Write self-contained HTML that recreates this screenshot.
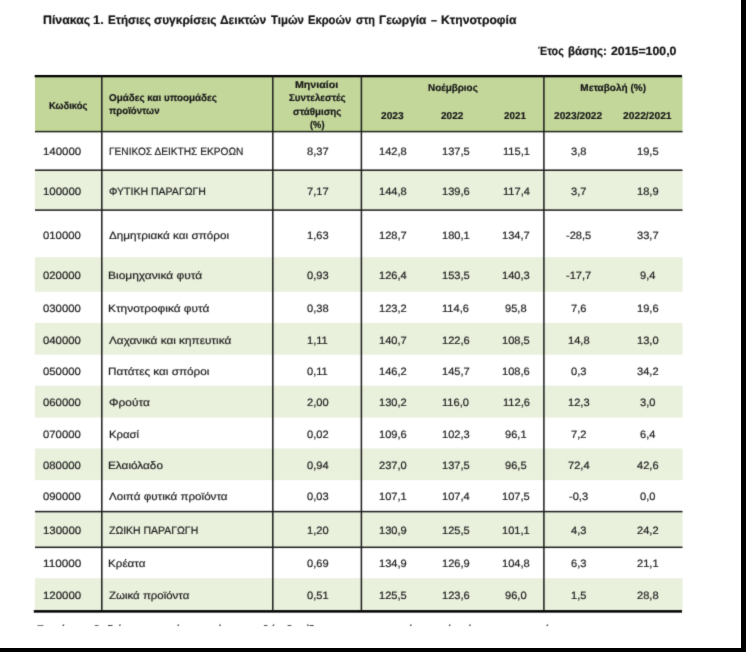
<!DOCTYPE html>
<html><head><meta charset="utf-8"><title>Table</title>
<style>
html,body{margin:0;padding:0;}
body{width:746px;height:652px;overflow:hidden;background:#000;position:relative;font-family:"Liberation Sans",sans-serif;}
#pg{position:absolute;left:0;top:0;width:741px;height:648px;background:#fff;overflow:hidden;}
#in{position:absolute;left:0;top:0;width:741px;height:648px;background:#fff;filter:url(#soft);}
.r{position:absolute;}
.t{text-rendering:geometricPrecision;-webkit-text-stroke:0.2px currentColor;position:absolute;white-space:nowrap;line-height:14px;height:14px;transform-origin:0 50%;}
</style></head><body>
<svg width="0" height="0" style="position:absolute"><defs><filter id="soft" x="0" y="0" width="100%" height="100%" color-interpolation-filters="sRGB"><feConvolveMatrix order="5" kernelMatrix="0.00000 0.00006 0.00035 0.00006 0.00000 0.00006 0.01430 0.09087 0.01430 0.00006 0.00035 0.09087 0.57743 0.09087 0.00035 0.00006 0.01430 0.09087 0.01430 0.00006 0.00000 0.00006 0.00035 0.00006 0.00000" edgeMode="duplicate" preserveAlpha="true"/></filter></defs></svg>
<div id="pg"><div id="in">

<svg class="r" style="left:0;top:0" width="741" height="648" viewBox="0 0 741 648"><rect x="35.00" y="76.00" width="647.50" height="55.60" fill="#c4d79b"/><rect x="35.00" y="170.20" width="647.50" height="39.90" fill="#e9f0dc"/><rect x="35.00" y="257.20" width="647.50" height="34.60" fill="#e9f0dc"/><rect x="35.00" y="322.90" width="647.50" height="31.80" fill="#e9f0dc"/><rect x="35.00" y="385.70" width="647.50" height="31.90" fill="#e9f0dc"/><rect x="35.00" y="448.40" width="647.50" height="31.70" fill="#e9f0dc"/><rect x="35.00" y="511.60" width="647.50" height="35.80" fill="#e9f0dc"/><rect x="35.00" y="578.30" width="647.50" height="32.20" fill="#e9f0dc"/><rect x="34.70" y="75.00" width="647.30" height="2.30" fill="#000"/><rect x="33.80" y="610.10" width="648.20" height="2.55" fill="#000"/><rect x="35.00" y="130.85" width="647.50" height="1.50" fill="#20241a"/><rect x="35.00" y="169.45" width="647.50" height="1.50" fill="#1c1c1c"/><rect x="35.00" y="209.35" width="647.50" height="1.50" fill="#1c1c1c"/><rect x="35.00" y="510.85" width="647.50" height="1.50" fill="#1c1c1c"/><rect x="35.00" y="546.55" width="647.50" height="1.50" fill="#1c1c1c"/><rect x="101.05" y="76.00" width="1.50" height="535.00" fill="#1c1c1c"/><rect x="272.05" y="76.00" width="1.50" height="535.00" fill="#1c1c1c"/><rect x="360.65" y="76.00" width="1.50" height="535.00" fill="#1c1c1c"/><rect x="543.15" y="76.00" width="1.50" height="535.00" fill="#1c1c1c"/></svg>
<div><span class="t" style="left:42.70px;top:12.27px;font-size:12.2px;line-height:16px;height:16px;transform:scaleX(1.0109);color:#111;font-weight:bold;">Πίνακας</span> <span class="t" style="left:93.33px;top:12.27px;font-size:12.2px;line-height:16px;height:16px;transform:scaleX(1.0580);color:#111;font-weight:bold;">1.</span> <span class="t" style="left:107.54px;top:12.27px;font-size:12.2px;line-height:16px;height:16px;transform:scaleX(0.9525);color:#111;font-weight:bold;">Ετήσιες</span> <span class="t" style="left:153.88px;top:12.27px;font-size:12.2px;line-height:16px;height:16px;transform:scaleX(0.9800);color:#111;font-weight:bold;">συγκρίσεις</span> <span class="t" style="left:219.82px;top:12.27px;font-size:12.2px;line-height:16px;height:16px;transform:scaleX(0.9840);color:#111;font-weight:bold;">Δεικτών</span> <span class="t" style="left:270.99px;top:12.27px;font-size:12.2px;line-height:16px;height:16px;transform:scaleX(0.9355);color:#111;font-weight:bold;">Τιμών</span> <span class="t" style="left:308.37px;top:12.27px;font-size:12.2px;line-height:16px;height:16px;transform:scaleX(0.9180);color:#111;font-weight:bold;">Εκροών</span> <span class="t" style="left:355.92px;top:12.27px;font-size:12.2px;line-height:16px;height:16px;transform:scaleX(0.8969);color:#111;font-weight:bold;">στη</span> <span class="t" style="left:379.03px;top:12.27px;font-size:12.2px;line-height:16px;height:16px;transform:scaleX(0.9736);color:#111;font-weight:bold;">Γεωργία</span> <span class="t" style="left:430.68px;top:12.27px;font-size:12.2px;line-height:16px;height:16px;transform:scaleX(0.8852);color:#111;font-weight:bold;">–</span> <span class="t" style="left:440.71px;top:12.27px;font-size:12.2px;line-height:16px;height:16px;transform:scaleX(0.9975);color:#111;font-weight:bold;">Κτηνοτροφία</span></div>
<div><span class="t" style="left:538.29px;top:43.34px;font-size:12.0px;line-height:16px;height:16px;transform:scaleX(0.8920);color:#111;font-weight:bold;">Έτος</span> <span class="t" style="left:568.15px;top:43.34px;font-size:12.0px;line-height:16px;height:16px;transform:scaleX(0.9565);color:#111;font-weight:bold;">βάσης:</span> <span class="t" style="left:611.03px;top:43.34px;font-size:12.0px;line-height:16px;height:16px;transform:scaleX(1.0264);color:#111;font-weight:bold;">2015=100,0</span></div>
<div class="t" style="left:49.29px;top:99.53px;font-size:10.0px;line-height:13px;height:13px;transform:scaleX(0.9410);color:#161616;font-weight:bold;">Κωδικός</div>
<div class="t" style="left:109.41px;top:91.53px;font-size:10.0px;line-height:13px;height:13px;transform:scaleX(0.9853);color:#161616;font-weight:bold;">Ομάδες και υποομάδες</div>
<div class="t" style="left:109.01px;top:104.53px;font-size:10.0px;line-height:13px;height:13px;transform:scaleX(0.9596);color:#161616;font-weight:bold;">προϊόντων</div>
<div class="t" style="left:295.31px;top:78.53px;font-size:10.0px;line-height:13px;height:13px;transform:scaleX(1.0631);color:#161616;font-weight:bold;">Μηνιαίοι</div>
<div class="t" style="left:289.01px;top:91.53px;font-size:10.0px;line-height:13px;height:13px;transform:scaleX(0.9746);color:#161616;font-weight:bold;">Συντελεστές</div>
<div class="t" style="left:293.36px;top:105.53px;font-size:10.0px;line-height:13px;height:13px;transform:scaleX(0.9734);color:#161616;font-weight:bold;">στάθμισης</div>
<div class="t" style="left:310.18px;top:118.53px;font-size:10.0px;line-height:13px;height:13px;transform:scaleX(0.9315);color:#161616;font-weight:bold;">(%)</div>
<div class="t" style="left:427.56px;top:81.53px;font-size:10.0px;line-height:13px;height:13px;transform:scaleX(0.9889);color:#161616;font-weight:bold;">Νοέμβριος</div>
<div class="t" style="left:580.35px;top:81.53px;font-size:10.0px;line-height:13px;height:13px;transform:scaleX(1.0000);color:#161616;font-weight:bold;">Μεταβολή (%)</div>
<div class="t" style="left:380.79px;top:109.53px;font-size:10.0px;line-height:13px;height:13px;transform:scaleX(1.0185);color:#161616;font-weight:bold;">2023</div>
<div class="t" style="left:441.40px;top:109.53px;font-size:10.0px;line-height:13px;height:13px;transform:scaleX(1.0093);color:#161616;font-weight:bold;">2022</div>
<div class="t" style="left:504.31px;top:109.53px;font-size:10.0px;line-height:13px;height:13px;transform:scaleX(0.9816);color:#161616;font-weight:bold;">2021</div>
<div class="t" style="left:554.39px;top:109.53px;font-size:10.0px;line-height:13px;height:13px;transform:scaleX(1.0193);color:#161616;font-weight:bold;">2023/2022</div>
<div class="t" style="left:623.39px;top:109.53px;font-size:10.0px;line-height:13px;height:13px;transform:scaleX(1.0278);color:#161616;font-weight:bold;">2022/2021</div>
<div class="t" style="left:42.64px;top:144.79px;font-size:10.7px;line-height:14px;height:14px;transform:scaleX(1.0722);color:#1c1c1c;">140000</div>
<div class="t" style="left:108.59px;top:144.83px;font-size:10.6px;line-height:14px;height:14px;transform:scaleX(0.9582);color:#1c1c1c;">ΓΕΝΙΚΟΣ ΔΕΙΚΤΗΣ ΕΚΡΟΩΝ</div>
<div class="t" style="left:306.50px;top:144.79px;font-size:10.7px;line-height:14px;height:14px;transform:scaleX(1.0374);color:#1c1c1c;">8,37</div>
<div class="t" style="left:378.71px;top:144.79px;font-size:10.7px;line-height:14px;height:14px;transform:scaleX(1.0374);color:#1c1c1c;">142,8</div>
<div class="t" style="left:441.51px;top:144.79px;font-size:10.7px;line-height:14px;height:14px;transform:scaleX(1.0374);color:#1c1c1c;">137,5</div>
<div class="t" style="left:502.52px;top:144.79px;font-size:10.7px;line-height:14px;height:14px;transform:scaleX(1.0374);color:#1c1c1c;">115,1</div>
<div class="t" style="left:571.18px;top:144.79px;font-size:10.7px;line-height:14px;height:14px;transform:scaleX(1.0374);color:#1c1c1c;">3,8</div>
<div class="t" style="left:636.90px;top:144.79px;font-size:10.7px;line-height:14px;height:14px;transform:scaleX(1.0374);color:#1c1c1c;">19,5</div>
<div class="t" style="left:42.64px;top:184.79px;font-size:10.7px;line-height:14px;height:14px;transform:scaleX(1.0722);color:#1c1c1c;">100000</div>
<div class="t" style="left:108.82px;top:184.83px;font-size:10.6px;line-height:14px;height:14px;transform:scaleX(0.9938);color:#1c1c1c;">ΦΥΤΙΚΗ ΠΑΡΑΓΩΓΗ</div>
<div class="t" style="left:306.50px;top:184.79px;font-size:10.7px;line-height:14px;height:14px;transform:scaleX(1.0374);color:#1c1c1c;">7,17</div>
<div class="t" style="left:378.71px;top:184.79px;font-size:10.7px;line-height:14px;height:14px;transform:scaleX(1.0374);color:#1c1c1c;">144,8</div>
<div class="t" style="left:441.51px;top:184.79px;font-size:10.7px;line-height:14px;height:14px;transform:scaleX(1.0374);color:#1c1c1c;">139,6</div>
<div class="t" style="left:502.52px;top:184.79px;font-size:10.7px;line-height:14px;height:14px;transform:scaleX(1.0374);color:#1c1c1c;">117,4</div>
<div class="t" style="left:571.18px;top:184.79px;font-size:10.7px;line-height:14px;height:14px;transform:scaleX(1.0374);color:#1c1c1c;">3,7</div>
<div class="t" style="left:636.90px;top:184.79px;font-size:10.7px;line-height:14px;height:14px;transform:scaleX(1.0374);color:#1c1c1c;">18,9</div>
<div class="t" style="left:43.10px;top:228.79px;font-size:10.7px;line-height:14px;height:14px;transform:scaleX(1.0591);color:#1c1c1c;">010000</div>
<div class="t" style="left:109.11px;top:228.83px;font-size:10.6px;line-height:14px;height:14px;transform:scaleX(1.1063);color:#1c1c1c;">Δημητριακά και σπόροι</div>
<div class="t" style="left:306.50px;top:228.79px;font-size:10.7px;line-height:14px;height:14px;transform:scaleX(1.0374);color:#1c1c1c;">1,63</div>
<div class="t" style="left:378.71px;top:228.79px;font-size:10.7px;line-height:14px;height:14px;transform:scaleX(1.0374);color:#1c1c1c;">128,7</div>
<div class="t" style="left:441.51px;top:228.79px;font-size:10.7px;line-height:14px;height:14px;transform:scaleX(1.0374);color:#1c1c1c;">180,1</div>
<div class="t" style="left:502.11px;top:228.79px;font-size:10.7px;line-height:14px;height:14px;transform:scaleX(1.0374);color:#1c1c1c;">134,7</div>
<div class="t" style="left:566.25px;top:228.79px;font-size:10.7px;line-height:14px;height:14px;transform:scaleX(1.0374);color:#1c1c1c;">-28,5</div>
<div class="t" style="left:636.90px;top:228.79px;font-size:10.7px;line-height:14px;height:14px;transform:scaleX(1.0374);color:#1c1c1c;">33,7</div>
<div class="t" style="left:43.10px;top:268.79px;font-size:10.7px;line-height:14px;height:14px;transform:scaleX(1.0591);color:#1c1c1c;">020000</div>
<div class="t" style="left:108.44px;top:268.83px;font-size:10.6px;line-height:14px;height:14px;transform:scaleX(1.1299);color:#1c1c1c;">Βιομηχανικά φυτά</div>
<div class="t" style="left:306.50px;top:268.79px;font-size:10.7px;line-height:14px;height:14px;transform:scaleX(1.0374);color:#1c1c1c;">0,93</div>
<div class="t" style="left:378.71px;top:268.79px;font-size:10.7px;line-height:14px;height:14px;transform:scaleX(1.0374);color:#1c1c1c;">126,4</div>
<div class="t" style="left:441.51px;top:268.79px;font-size:10.7px;line-height:14px;height:14px;transform:scaleX(1.0374);color:#1c1c1c;">153,5</div>
<div class="t" style="left:502.11px;top:268.79px;font-size:10.7px;line-height:14px;height:14px;transform:scaleX(1.0374);color:#1c1c1c;">140,3</div>
<div class="t" style="left:566.25px;top:268.79px;font-size:10.7px;line-height:14px;height:14px;transform:scaleX(1.0374);color:#1c1c1c;">-17,7</div>
<div class="t" style="left:639.98px;top:268.79px;font-size:10.7px;line-height:14px;height:14px;transform:scaleX(1.0374);color:#1c1c1c;">9,4</div>
<div class="t" style="left:43.10px;top:301.79px;font-size:10.7px;line-height:14px;height:14px;transform:scaleX(1.0591);color:#1c1c1c;">030000</div>
<div class="t" style="left:108.45px;top:301.83px;font-size:10.6px;line-height:14px;height:14px;transform:scaleX(1.1200);color:#1c1c1c;">Κτηνοτροφικά φυτά</div>
<div class="t" style="left:306.50px;top:301.79px;font-size:10.7px;line-height:14px;height:14px;transform:scaleX(1.0374);color:#1c1c1c;">0,38</div>
<div class="t" style="left:378.71px;top:301.79px;font-size:10.7px;line-height:14px;height:14px;transform:scaleX(1.0374);color:#1c1c1c;">123,2</div>
<div class="t" style="left:441.92px;top:301.79px;font-size:10.7px;line-height:14px;height:14px;transform:scaleX(1.0374);color:#1c1c1c;">114,6</div>
<div class="t" style="left:505.20px;top:301.79px;font-size:10.7px;line-height:14px;height:14px;transform:scaleX(1.0374);color:#1c1c1c;">95,8</div>
<div class="t" style="left:571.18px;top:301.79px;font-size:10.7px;line-height:14px;height:14px;transform:scaleX(1.0374);color:#1c1c1c;">7,6</div>
<div class="t" style="left:636.90px;top:301.79px;font-size:10.7px;line-height:14px;height:14px;transform:scaleX(1.0374);color:#1c1c1c;">19,6</div>
<div class="t" style="left:43.10px;top:333.79px;font-size:10.7px;line-height:14px;height:14px;transform:scaleX(1.0591);color:#1c1c1c;">040000</div>
<div class="t" style="left:109.34px;top:333.83px;font-size:10.6px;line-height:14px;height:14px;transform:scaleX(1.1116);color:#1c1c1c;">Λαχανικά και κηπευτικά</div>
<div class="t" style="left:306.91px;top:333.79px;font-size:10.7px;line-height:14px;height:14px;transform:scaleX(1.0374);color:#1c1c1c;">1,11</div>
<div class="t" style="left:378.71px;top:333.79px;font-size:10.7px;line-height:14px;height:14px;transform:scaleX(1.0374);color:#1c1c1c;">140,7</div>
<div class="t" style="left:441.51px;top:333.79px;font-size:10.7px;line-height:14px;height:14px;transform:scaleX(1.0374);color:#1c1c1c;">122,6</div>
<div class="t" style="left:502.11px;top:333.79px;font-size:10.7px;line-height:14px;height:14px;transform:scaleX(1.0374);color:#1c1c1c;">108,5</div>
<div class="t" style="left:568.10px;top:333.79px;font-size:10.7px;line-height:14px;height:14px;transform:scaleX(1.0374);color:#1c1c1c;">14,8</div>
<div class="t" style="left:636.90px;top:333.79px;font-size:10.7px;line-height:14px;height:14px;transform:scaleX(1.0374);color:#1c1c1c;">13,0</div>
<div class="t" style="left:43.10px;top:364.79px;font-size:10.7px;line-height:14px;height:14px;transform:scaleX(1.0591);color:#1c1c1c;">050000</div>
<div class="t" style="left:108.46px;top:364.83px;font-size:10.6px;line-height:14px;height:14px;transform:scaleX(1.1082);color:#1c1c1c;">Πατάτες και σπόροι</div>
<div class="t" style="left:306.91px;top:364.79px;font-size:10.7px;line-height:14px;height:14px;transform:scaleX(1.0374);color:#1c1c1c;">0,11</div>
<div class="t" style="left:378.71px;top:364.79px;font-size:10.7px;line-height:14px;height:14px;transform:scaleX(1.0374);color:#1c1c1c;">146,2</div>
<div class="t" style="left:441.51px;top:364.79px;font-size:10.7px;line-height:14px;height:14px;transform:scaleX(1.0374);color:#1c1c1c;">145,7</div>
<div class="t" style="left:502.11px;top:364.79px;font-size:10.7px;line-height:14px;height:14px;transform:scaleX(1.0374);color:#1c1c1c;">108,6</div>
<div class="t" style="left:571.18px;top:364.79px;font-size:10.7px;line-height:14px;height:14px;transform:scaleX(1.0374);color:#1c1c1c;">0,3</div>
<div class="t" style="left:636.90px;top:364.79px;font-size:10.7px;line-height:14px;height:14px;transform:scaleX(1.0374);color:#1c1c1c;">34,2</div>
<div class="t" style="left:43.10px;top:395.79px;font-size:10.7px;line-height:14px;height:14px;transform:scaleX(1.0591);color:#1c1c1c;">060000</div>
<div class="t" style="left:108.74px;top:395.83px;font-size:10.6px;line-height:14px;height:14px;transform:scaleX(1.1253);color:#1c1c1c;">Φρούτα</div>
<div class="t" style="left:306.50px;top:395.79px;font-size:10.7px;line-height:14px;height:14px;transform:scaleX(1.0374);color:#1c1c1c;">2,00</div>
<div class="t" style="left:378.71px;top:395.79px;font-size:10.7px;line-height:14px;height:14px;transform:scaleX(1.0374);color:#1c1c1c;">130,2</div>
<div class="t" style="left:441.92px;top:395.79px;font-size:10.7px;line-height:14px;height:14px;transform:scaleX(1.0374);color:#1c1c1c;">116,0</div>
<div class="t" style="left:502.52px;top:395.79px;font-size:10.7px;line-height:14px;height:14px;transform:scaleX(1.0374);color:#1c1c1c;">112,6</div>
<div class="t" style="left:568.10px;top:395.79px;font-size:10.7px;line-height:14px;height:14px;transform:scaleX(1.0374);color:#1c1c1c;">12,3</div>
<div class="t" style="left:639.98px;top:395.79px;font-size:10.7px;line-height:14px;height:14px;transform:scaleX(1.0374);color:#1c1c1c;">3,0</div>
<div class="t" style="left:43.10px;top:427.79px;font-size:10.7px;line-height:14px;height:14px;transform:scaleX(1.0591);color:#1c1c1c;">070000</div>
<div class="t" style="left:108.50px;top:427.83px;font-size:10.6px;line-height:14px;height:14px;transform:scaleX(1.0666);color:#1c1c1c;">Κρασί</div>
<div class="t" style="left:306.50px;top:427.79px;font-size:10.7px;line-height:14px;height:14px;transform:scaleX(1.0374);color:#1c1c1c;">0,02</div>
<div class="t" style="left:378.71px;top:427.79px;font-size:10.7px;line-height:14px;height:14px;transform:scaleX(1.0374);color:#1c1c1c;">109,6</div>
<div class="t" style="left:441.51px;top:427.79px;font-size:10.7px;line-height:14px;height:14px;transform:scaleX(1.0374);color:#1c1c1c;">102,3</div>
<div class="t" style="left:505.20px;top:427.79px;font-size:10.7px;line-height:14px;height:14px;transform:scaleX(1.0374);color:#1c1c1c;">96,1</div>
<div class="t" style="left:571.18px;top:427.79px;font-size:10.7px;line-height:14px;height:14px;transform:scaleX(1.0374);color:#1c1c1c;">7,2</div>
<div class="t" style="left:639.98px;top:427.79px;font-size:10.7px;line-height:14px;height:14px;transform:scaleX(1.0374);color:#1c1c1c;">6,4</div>
<div class="t" style="left:43.10px;top:458.79px;font-size:10.7px;line-height:14px;height:14px;transform:scaleX(1.0591);color:#1c1c1c;">080000</div>
<div class="t" style="left:108.46px;top:458.83px;font-size:10.6px;line-height:14px;height:14px;transform:scaleX(1.1126);color:#1c1c1c;">Ελαιόλαδο</div>
<div class="t" style="left:306.50px;top:458.79px;font-size:10.7px;line-height:14px;height:14px;transform:scaleX(1.0374);color:#1c1c1c;">0,94</div>
<div class="t" style="left:378.71px;top:458.79px;font-size:10.7px;line-height:14px;height:14px;transform:scaleX(1.0374);color:#1c1c1c;">237,0</div>
<div class="t" style="left:441.51px;top:458.79px;font-size:10.7px;line-height:14px;height:14px;transform:scaleX(1.0374);color:#1c1c1c;">137,5</div>
<div class="t" style="left:505.20px;top:458.79px;font-size:10.7px;line-height:14px;height:14px;transform:scaleX(1.0374);color:#1c1c1c;">96,5</div>
<div class="t" style="left:568.10px;top:458.79px;font-size:10.7px;line-height:14px;height:14px;transform:scaleX(1.0374);color:#1c1c1c;">72,4</div>
<div class="t" style="left:636.90px;top:458.79px;font-size:10.7px;line-height:14px;height:14px;transform:scaleX(1.0374);color:#1c1c1c;">42,6</div>
<div class="t" style="left:43.10px;top:489.79px;font-size:10.7px;line-height:14px;height:14px;transform:scaleX(1.0591);color:#1c1c1c;">090000</div>
<div class="t" style="left:109.34px;top:489.83px;font-size:10.6px;line-height:14px;height:14px;transform:scaleX(1.0990);color:#1c1c1c;">Λοιπά φυτικά προϊόντα</div>
<div class="t" style="left:306.50px;top:489.79px;font-size:10.7px;line-height:14px;height:14px;transform:scaleX(1.0374);color:#1c1c1c;">0,03</div>
<div class="t" style="left:378.71px;top:489.79px;font-size:10.7px;line-height:14px;height:14px;transform:scaleX(1.0374);color:#1c1c1c;">107,1</div>
<div class="t" style="left:441.51px;top:489.79px;font-size:10.7px;line-height:14px;height:14px;transform:scaleX(1.0374);color:#1c1c1c;">107,4</div>
<div class="t" style="left:502.11px;top:489.79px;font-size:10.7px;line-height:14px;height:14px;transform:scaleX(1.0374);color:#1c1c1c;">107,5</div>
<div class="t" style="left:569.34px;top:489.79px;font-size:10.7px;line-height:14px;height:14px;transform:scaleX(1.0374);color:#1c1c1c;">-0,3</div>
<div class="t" style="left:639.98px;top:489.79px;font-size:10.7px;line-height:14px;height:14px;transform:scaleX(1.0374);color:#1c1c1c;">0,0</div>
<div class="t" style="left:42.64px;top:523.79px;font-size:10.7px;line-height:14px;height:14px;transform:scaleX(1.0722);color:#1c1c1c;">130000</div>
<div class="t" style="left:109.09px;top:523.83px;font-size:10.6px;line-height:14px;height:14px;transform:scaleX(0.9877);color:#1c1c1c;">ΖΩΙΚΗ ΠΑΡΑΓΩΓΗ</div>
<div class="t" style="left:306.50px;top:523.79px;font-size:10.7px;line-height:14px;height:14px;transform:scaleX(1.0374);color:#1c1c1c;">1,20</div>
<div class="t" style="left:378.71px;top:523.79px;font-size:10.7px;line-height:14px;height:14px;transform:scaleX(1.0374);color:#1c1c1c;">130,9</div>
<div class="t" style="left:441.51px;top:523.79px;font-size:10.7px;line-height:14px;height:14px;transform:scaleX(1.0374);color:#1c1c1c;">125,5</div>
<div class="t" style="left:502.11px;top:523.79px;font-size:10.7px;line-height:14px;height:14px;transform:scaleX(1.0374);color:#1c1c1c;">101,1</div>
<div class="t" style="left:571.18px;top:523.79px;font-size:10.7px;line-height:14px;height:14px;transform:scaleX(1.0374);color:#1c1c1c;">4,3</div>
<div class="t" style="left:636.90px;top:523.79px;font-size:10.7px;line-height:14px;height:14px;transform:scaleX(1.0374);color:#1c1c1c;">24,2</div>
<div class="t" style="left:42.62px;top:556.79px;font-size:10.7px;line-height:14px;height:14px;transform:scaleX(1.0978);color:#1c1c1c;">110000</div>
<div class="t" style="left:108.47px;top:556.83px;font-size:10.6px;line-height:14px;height:14px;transform:scaleX(1.0981);color:#1c1c1c;">Κρέατα</div>
<div class="t" style="left:306.50px;top:556.79px;font-size:10.7px;line-height:14px;height:14px;transform:scaleX(1.0374);color:#1c1c1c;">0,69</div>
<div class="t" style="left:378.71px;top:556.79px;font-size:10.7px;line-height:14px;height:14px;transform:scaleX(1.0374);color:#1c1c1c;">134,9</div>
<div class="t" style="left:441.51px;top:556.79px;font-size:10.7px;line-height:14px;height:14px;transform:scaleX(1.0374);color:#1c1c1c;">126,9</div>
<div class="t" style="left:502.11px;top:556.79px;font-size:10.7px;line-height:14px;height:14px;transform:scaleX(1.0374);color:#1c1c1c;">104,8</div>
<div class="t" style="left:571.18px;top:556.79px;font-size:10.7px;line-height:14px;height:14px;transform:scaleX(1.0374);color:#1c1c1c;">6,3</div>
<div class="t" style="left:636.90px;top:556.79px;font-size:10.7px;line-height:14px;height:14px;transform:scaleX(1.0374);color:#1c1c1c;">21,1</div>
<div class="t" style="left:42.64px;top:588.79px;font-size:10.7px;line-height:14px;height:14px;transform:scaleX(1.0722);color:#1c1c1c;">120000</div>
<div class="t" style="left:109.06px;top:588.83px;font-size:10.6px;line-height:14px;height:14px;transform:scaleX(1.0819);color:#1c1c1c;">Ζωικά προϊόντα</div>
<div class="t" style="left:306.50px;top:588.79px;font-size:10.7px;line-height:14px;height:14px;transform:scaleX(1.0374);color:#1c1c1c;">0,51</div>
<div class="t" style="left:378.71px;top:588.79px;font-size:10.7px;line-height:14px;height:14px;transform:scaleX(1.0374);color:#1c1c1c;">125,5</div>
<div class="t" style="left:441.51px;top:588.79px;font-size:10.7px;line-height:14px;height:14px;transform:scaleX(1.0374);color:#1c1c1c;">123,6</div>
<div class="t" style="left:505.20px;top:588.79px;font-size:10.7px;line-height:14px;height:14px;transform:scaleX(1.0374);color:#1c1c1c;">96,0</div>
<div class="t" style="left:571.18px;top:588.79px;font-size:10.7px;line-height:14px;height:14px;transform:scaleX(1.0374);color:#1c1c1c;">1,5</div>
<div class="t" style="left:636.90px;top:588.79px;font-size:10.7px;line-height:14px;height:14px;transform:scaleX(1.0374);color:#1c1c1c;">28,8</div>
<div class="r" style="left:36px;top:618px;width:620px;height:8.4px;overflow:hidden"><div class="t" style="left:1.34px;top:4.69px;font-size:11.0px;line-height:14px;height:14px;transform:scaleX(1.0260);color:#1c1c1c;">Σημείωση: Οι δείκτες του τρέχοντος έτους, καθώς βασίζονται σε προσωρινά στοιχεία, είναι προσωρινοί.</div></div>
</div></div></body></html>
